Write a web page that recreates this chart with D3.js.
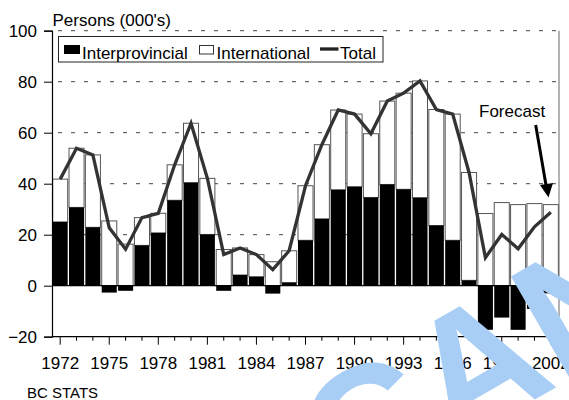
<!DOCTYPE html>
<html>
<head>
<meta charset="utf-8">
<script src="https://cdn.jsdelivr.net/npm/d3@7"></script>
<style>
  body { margin: 0; background: #fff; }
  svg { display: block; font-family: "Liberation Sans", Arial, sans-serif; }
</style>
</head>
<body>
<svg width="569" height="400"></svg>
<script>
const years = d3.range(1972, 2003);
const tickYears = [1972, 1975, 1978, 1981, 1984, 1987, 1990, 1993, 1996, 1999, 2002];
const yTicks = [-20, 0, 20, 40, 60, 80, 100];

// net migration to BC, thousands of persons
const interprovincial = [25.0, 30.7, 22.9, -2.7, -2.0, 15.8, 20.7, 33.5, 40.4, 20.1,
    -2.0, 4.2, 3.5, -3.1, 1.2, 17.8, 26.2, 37.6, 38.8, 34.6,
    39.7, 37.8, 34.5, 23.6, 17.8, 2.1, -17.3, -12.5, -17.3, -9.1, -3.0];
const international = [16.8, 23.2, 28.4, 25.4, 16.3, 10.9, 7.7, 13.9, 23.3, 22.0,
    14.2, 10.6, 8.7, 9.4, 12.5, 21.4, 29.1, 31.3, 28.5, 25.0,
    32.7, 37.7, 45.8, 45.5, 49.5, 42.3, 28.3, 32.6, 31.8, 32.2, 31.8];

const rows = years.map((y, i) => ({
    year: y,
    inter: interprovincial[i],
    intl: international[i],
    total: interprovincial[i] + international[i]
}));

const svg = d3.select('svg');
const pLeft = 52, pRight = 559, pTop = 30.7, pBottom = 336.7;

const x = d3.scaleBand().domain(years).range([pLeft, pRight]).padding(0);
const y = d3.scaleLinear().domain([-20, 100]).range([pBottom, pTop]);
const bw = x.bandwidth() * 0.92;
const off = (x.bandwidth() - bw) / 2;

// dashed grid
svg.append('g')
.selectAll('line')
.data([20, 40, 60, 80, 100])
.enter().append('line')
.attr('x1', pLeft).attr('x2', pRight)
.attr('y1', d => y(d)).attr('y2', d => y(d))
.attr('stroke', '#444')
.attr('stroke-width', 1)
.attr('stroke-dasharray', '4,9')
.attr('stroke-dashoffset', 7);

// international (white) bars
svg.append('g')
.selectAll('rect')
.data(rows)
.enter().append('rect')
.attr('x', d => x(d.year) + off)
.attr('width', bw)
.attr('y', d => y(Math.max(d.inter, 0) + d.intl))
.attr('height', d => y(Math.max(d.inter, 0)) - y(Math.max(d.inter, 0) + d.intl))
.attr('fill', '#fff')
.attr('stroke', '#555')
.attr('stroke-width', 1);

// interprovincial (black) bars
svg.append('g')
.selectAll('rect')
.data(rows)
.enter().append('rect')
.attr('x', d => x(d.year) + off)
.attr('width', bw)
.attr('y', d => y(Math.max(d.inter, 0)))
.attr('height', d => Math.abs(y(d.inter) - y(0)))
.attr('fill', '#000');

// zero line, bottom axis, right border
svg.append('line').attr('x1', pLeft).attr('x2', pRight).attr('y1', y(0)).attr('y2', y(0))
.attr('stroke', '#000').attr('stroke-width', 1.2);
svg.append('line').attr('x1', pLeft).attr('x2', pRight).attr('y1', pBottom).attr('y2', pBottom)
.attr('stroke', '#000').attr('stroke-width', 1.2);
svg.append('line').attr('x1', pRight).attr('x2', pRight).attr('y1', pTop).attr('y2', pBottom)
.attr('stroke', '#666').attr('stroke-width', 1);

const yAxis = svg.append('g')
.attr('transform', `translate(${pLeft},0)`)
.call(d3.axisLeft(y).tickValues(yTicks).tickSize(8).tickPadding(7));
yAxis.select('.domain').attr('stroke', '#000').attr('stroke-width', 1.2);
yAxis.selectAll('text').attr('font-size', 17).attr('fill', '#000')
.attr('font-family', '"Liberation Sans", Arial, sans-serif');

const xAxis = svg.append('g')
.attr('transform', `translate(0,${pBottom})`)
.call(d3.axisBottom(x).tickValues(years).tickSize(4).tickFormat(d => tickYears.includes(d) ? d : ''));
xAxis.select('.domain').remove();
xAxis.selectAll('.tick line')
.attr('y2', d => tickYears.includes(d) ? 8 : 4)
.attr('stroke', '#000');
xAxis.selectAll('text')
.attr('y', 20)
.attr('font-size', 17).attr('fill', '#000')
.attr('font-family', '"Liberation Sans", Arial, sans-serif');

// total line
svg.append('path')
.datum(rows)
.attr('fill', 'none')
.attr('stroke', '#333')
.attr('stroke-width', 3.3)
.attr('d', d3.line().x(d => x(d.year) + x.bandwidth() / 2).y(d => y(d.total)));

// legend
const lg = svg.append('g');
lg.append('rect').attr('x', 58.5).attr('y', 36.5).attr('width', 324.5).attr('height', 25.5)
.attr('fill', '#fff').attr('stroke', '#222').attr('stroke-width', 1);
lg.append('rect').attr('x', 64).attr('y', 45).attr('width', 16).attr('height', 9).attr('fill', '#000');
lg.append('text').attr('x', 82).attr('y', 59).attr('font-size', 17).text('Interprovincial');
lg.append('rect').attr('x', 199.5).attr('y', 45.5).attr('width', 14).attr('height', 8.5)
.attr('fill', '#fff').attr('stroke', '#333').attr('stroke-width', 1);
lg.append('text').attr('x', 216.5).attr('y', 59).attr('font-size', 17).text('International');
lg.append('line').attr('x1', 320).attr('x2', 338.5).attr('y1', 49).attr('y2', 49)
.attr('stroke', '#222').attr('stroke-width', 3.3);
lg.append('text').attr('x', 340).attr('y', 59).attr('font-size', 17).text('Total');

// titles and notes
svg.append('text').attr('x', 52.5).attr('y', 26).attr('font-size', 17).text('Persons (000\'s)');
svg.append('text').attr('x', 479).attr('y', 117).attr('font-size', 17).text('Forecast');
svg.append('text').attr('x', 27).attr('y', 397.5).attr('font-size', 15).text('BC STATS');

// forecast arrow
svg.append('line').attr('x1', 535.7).attr('y1', 125).attr('x2', 546.5).attr('y2', 188)
.attr('stroke', '#000').attr('stroke-width', 3);
svg.append('path').attr('d', 'M548.5,197.5 L540,185 L553,183 Z').attr('fill', '#000');

// watermark
svg.append('text')
.attr('transform', 'translate(345,509) rotate(-30)')
.attr('font-size', 172)
.attr('font-weight', 'bold')
.attr('fill', '#a8cef5')
.text('CANCELLED');
</script>
</body>
</html>
